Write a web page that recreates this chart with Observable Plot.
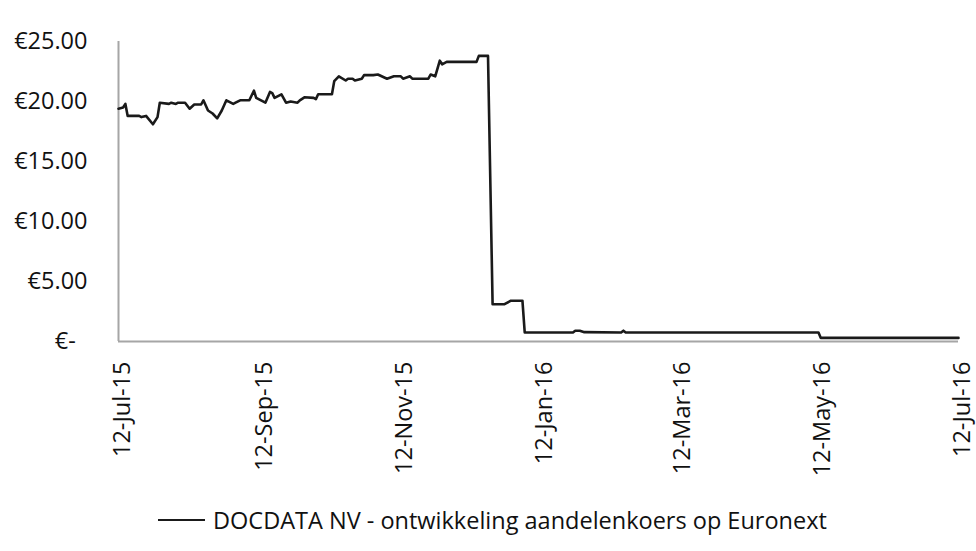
<!DOCTYPE html>
<html>
<head>
<meta charset="utf-8">
<script src="https://cdn.jsdelivr.net/npm/d3@7"></script>
<script src="https://cdn.jsdelivr.net/npm/@observablehq/plot@0.6"></script>
<style>
  html, body { margin: 0; padding: 0; background: #fff; }
  #wrap { position: relative; width: 976px; height: 551px; font-family: "Open Sans", sans-serif; }
  #chart { position: absolute; left: 0; top: 0; }
  #legend { position: absolute; left: 158px; top: 504px; display: flex; align-items: center; font-size: 23.5px; color: #111; white-space: nowrap; }
  #legend .swatch { width: 47px; height: 0; border-top: 2.5px solid #1a1a1a; margin-right: 8px; }
</style>
</head>
<body>
<div id="wrap">
  <div id="chart"></div>
  <div id="legend"><span class="swatch"></span><span id="legendText"></span></div>
</div>
<script>
const seriesName = "DOCDATA NV - ontwikkeling aandelenkoers op Euronext";

const dates = [
  "2015-07-12","2015-07-14","2015-07-15","2015-07-16","2015-07-21","2015-07-22","2015-07-24","2015-07-27",
  "2015-07-29","2015-07-30","2015-08-03","2015-08-04","2015-08-06","2015-08-07","2015-08-10","2015-08-12",
  "2015-08-14","2015-08-17","2015-08-18","2015-08-20","2015-08-22","2015-08-24","2015-08-26","2015-08-28",
  "2015-08-31","2015-09-01","2015-09-03","2015-09-07","2015-09-09","2015-09-10","2015-09-14","2015-09-16",
  "2015-09-17","2015-09-18","2015-09-21","2015-09-23","2015-09-25","2015-09-28","2015-09-29","2015-10-01",
  "2015-10-05","2015-10-06","2015-10-07","2015-10-13","2015-10-14","2015-10-16","2015-10-19","2015-10-20",
  "2015-10-22","2015-10-23","2015-10-26","2015-10-27","2015-10-31","2015-11-02","2015-11-06","2015-11-09",
  "2015-11-12","2015-11-13","2015-11-16","2015-11-17","2015-11-24","2015-11-25","2015-11-27","2015-11-29",
  "2015-11-30","2015-12-02","2015-12-15","2015-12-16","2015-12-20","2015-12-22","2015-12-27","2015-12-30",
  "2016-01-04","2016-01-05","2016-01-26","2016-01-27","2016-01-29","2016-01-31","2016-02-16","2016-02-17",
  "2016-02-18","2016-05-12","2016-05-13","2016-07-12"
];
const prices = [
  19.4,19.5,19.8,18.8,18.8,18.7,18.8,18.1,
  18.7,19.9,19.8,19.9,19.8,19.9,19.9,19.4,
  19.75,19.75,20.1,19.25,19.0,18.6,19.25,20.1,
  19.8,19.9,20.1,20.1,20.9,20.3,19.9,20.8,
  20.7,20.3,20.6,19.9,20.0,19.9,20.1,20.35,
  20.3,20.2,20.6,20.6,21.7,22.1,21.75,21.9,
  21.9,21.75,21.9,22.2,22.2,22.25,21.9,22.1,
  22.1,21.9,22.1,21.9,21.9,22.25,22.1,23.4,
  23.1,23.3,23.3,23.8,23.8,3.1,3.1,3.4,
  3.4,0.75,0.75,0.9,0.9,0.78,0.75,0.9,
  0.75,0.75,0.3,0.3
];

const xTickDates = ["2015-07-12","2015-09-12","2015-11-12","2016-01-12","2016-03-12","2016-05-12","2016-07-12"];
const xTickLabels = ["12-Jul-15","12-Sep-15","12-Nov-15","12-Jan-16","12-Mar-16","12-May-16","12-Jul-16"];
const yTickValues = [0, 5, 10, 15, 20, 25];
const yTickLabels = ["€-\u2002", "€5.00", "€10.00", "€15.00", "€20.00", "€25.00"];

const parse = s => new Date(s + "T00:00:00Z");
const data = dates.map((d, i) => ({date: parse(d), price: prices[i]}));
const xTicks = xTickDates.map(parse);

document.getElementById("legendText").textContent = seriesName;

const chart = Plot.plot({
  width: 976,
  height: 490,
  marginTop: 41,
  marginBottom: 149,
  marginLeft: 118,
  marginRight: 18,
  style: {fontFamily: "Open Sans, sans-serif", fontSize: "23.5px", color: "#111", background: "white"},
  x: {type: "utc", domain: [xTicks[0], xTicks[xTicks.length - 1]]},
  y: {domain: [0, 25]},
  marks: [
    Plot.axisY({
      ticks: yTickValues,
      tickFormat: v => yTickLabels[yTickValues.indexOf(v)],
      tickSize: 0,
      tickPadding: 31,
      fontSize: 23.5,
      label: null
    }),
    Plot.axisX({
      ticks: xTicks,
      tickFormat: d => xTickLabels[xTicks.findIndex(t => +t === +d)],
      tickSize: 0,
      tickPadding: 20,
      tickRotate: -90,
      fontSize: 23.5,
      dx: 4,
      label: null
    }),
    Plot.ruleX([xTicks[0]], {stroke: "#a6a6a6", strokeWidth: 2}),
    Plot.ruleY([0], {stroke: "#a6a6a6", strokeWidth: 2}),
    Plot.line(data, {x: "date", y: "price", stroke: "#1a1a1a", strokeWidth: 2.6, curve: "linear"})
  ]
});
document.getElementById("chart").appendChild(chart);
</script>
</body>
</html>
